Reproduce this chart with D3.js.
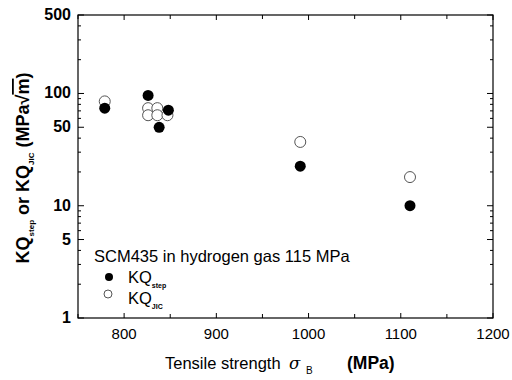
<!DOCTYPE html>
<html>
<head>
<meta charset="utf-8">
<script src="https://cdn.jsdelivr.net/npm/d3@7"></script>
<style>
  body { margin: 0; background: #fff; }
  text { font-family: "Liberation Sans", Arial, sans-serif; }
</style>
</head>
<body>
<div id="chart-area"></div>
<script>
// KQ step (filled) and KQ JIC (open), SCM435 in 115 MPa hydrogen
var stepX = [779, 826, 848, 838, 991, 1110];
var stepY = [74, 96, 71, 50, 22.5, 10];
var jicX = [779, 826, 826, 836, 836, 847, 991, 1110];
var jicY = [85, 74, 64, 74, 64, 64, 37, 18];

var xTicks = [800, 900, 1000, 1100, 1200];
var xMinor = [750, 850, 950, 1050, 1150];
var yTicks = [1, 5, 10, 50, 100, 500];
var yMinor = [2, 3, 4, 6, 7, 8, 9, 20, 30, 40, 60, 70, 80, 90, 200, 300, 400];

var W = 512, H = 380;
// window.top is read-only, so plot edges get their own names
var pL = 78, pR = 493, pT = 15, pB = 318;

var svg = d3.select("#chart-area")
    .append("svg")
    .attr("width", W)
    .attr("height", H);

var x = d3.scaleLinear().domain([750, 1200]).range([pL, pR]);
var y = d3.scaleLog().domain([1, 500]).range([pB, pT]);

// inward ticks on all sides
var g = svg.append("g");
function addTicks(vals, len, onX) {
    vals.forEach(function (v) {
        if (onX) {
            g.append("line").attr("x1", x(v)).attr("x2", x(v)).attr("y1", pB).attr("y2", pB - len).attr("stroke", "#000");
            g.append("line").attr("x1", x(v)).attr("x2", x(v)).attr("y1", pT).attr("y2", pT + len).attr("stroke", "#000");
        } else {
            g.append("line").attr("y1", y(v)).attr("y2", y(v)).attr("x1", pL).attr("x2", pL + len).attr("stroke", "#000");
            g.append("line").attr("y1", y(v)).attr("y2", y(v)).attr("x1", pR).attr("x2", pR - len).attr("stroke", "#000");
        }
    });
}
addTicks(xTicks, 5, true);
addTicks(xMinor, 4, true);
addTicks(yTicks, 6, false);
addTicks(yMinor, 3, false);

svg.append("rect")
    .attr("x", pL).attr("y", pT)
    .attr("width", pR - pL).attr("height", pB - pT)
    .attr("fill", "none").attr("stroke", "#000").attr("stroke-width", 1.2);

// tick labels
svg.selectAll(".xl").data(xTicks).enter().append("text")
    .attr("x", function (d) { return x(d); })
    .attr("y", pB + 21)
    .attr("text-anchor", "middle")
    .attr("font-size", 15)
    .text(function (d) { return d; });

svg.selectAll(".yl").data(yTicks).enter().append("text")
    .attr("x", pL - 7)
    .attr("y", function (d) { return y(d) + 5; })
    .attr("text-anchor", "end")
    .attr("font-size", 16)
    .attr("font-weight", "bold")
    .text(function (d) { return d; });

// axis titles
var xt = svg.append("text")
    .attr("y", 369)
    .attr("font-size", 16.5);
xt.append("tspan").attr("x", 165).text("Tensile strength");
xt.append("tspan").attr("x", 289).attr("font-style", "italic").attr("font-family", "DejaVu Serif").text("σ");
xt.append("tspan").attr("x", 306).attr("font-size", 10).attr("dy", 5).text("B");
xt.append("tspan").attr("x", 347).attr("dy", -5).attr("font-weight", "bold").attr("font-size", 17.5).text("(MPa)");

var yt = svg.append("text")
    .attr("transform", "translate(29," + 168 + ") rotate(-90)")
    .attr("text-anchor", "middle")
    .attr("font-size", 18)
    .attr("font-weight", "bold");
yt.append("tspan").text("KQ");
yt.append("tspan").attr("font-size", 8).attr("dy", 5).text("step");
yt.append("tspan").attr("dy", -5).text(" or ");
yt.append("tspan").text("KQ");
yt.append("tspan").attr("font-size", 8).attr("dy", 5).text("JIC");
yt.append("tspan").attr("dy", -5).text(" (MPa√");
yt.append("tspan").attr("text-decoration", "overline").text("m");
yt.append("tspan").text(")");

// points
var r = 5.5;
svg.selectAll(".jic").data(jicX).enter().append("circle")
    .attr("cx", function (d) { return x(d); })
    .attr("cy", function (d, i) { return y(jicY[i]); })
    .attr("r", r)
    .attr("fill", "#fff")
    .attr("stroke", "#555")
    .attr("stroke-width", 1);

svg.selectAll(".step").data(stepX).enter().append("circle")
    .attr("cx", function (d) { return x(d); })
    .attr("cy", function (d, i) { return y(stepY[i]); })
    .attr("r", r)
    .attr("fill", "#000");

// legend
svg.append("text").attr("x", 94).attr("y", 262).attr("font-size", 16.5)
    .text("SCM435 in hydrogen gas 115 MPa");
svg.append("circle").attr("cx", 109).attr("cy", 277).attr("r", 4).attr("fill", "#000");
var l1 = svg.append("text").attr("x", 128).attr("y", 283).attr("font-size", 16.5);
l1.append("tspan").text("KQ");
l1.append("tspan").attr("font-size", 7).attr("font-weight", "bold").attr("dy", 5).text("step");
svg.append("circle").attr("cx", 108).attr("cy", 294).attr("r", 4).attr("fill", "#fff").attr("stroke", "#555");
var l2 = svg.append("text").attr("x", 128).attr("y", 304).attr("font-size", 16.5);
l2.append("tspan").text("KQ");
l2.append("tspan").attr("font-size", 7).attr("font-weight", "bold").attr("dy", 5).text("JIC");
</script>
</body>
</html>
